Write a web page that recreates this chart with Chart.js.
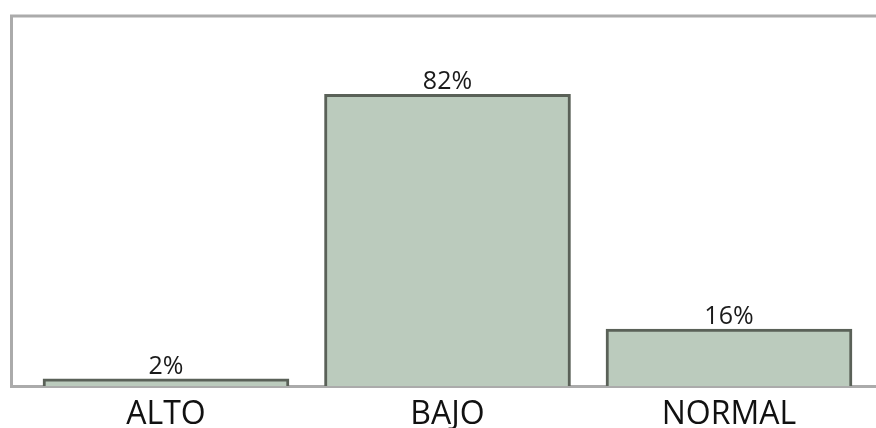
<!DOCTYPE html>
<html>
<head>
<meta charset="utf-8">
<script src="https://cdn.jsdelivr.net/npm/chart.js@4/dist/chart.umd.min.js"></script>
<style>
  html, body { margin: 0; padding: 0; background: #ffffff; }
  #wrap { position: relative; width: 876px; height: 428px; }
</style>
</head>
<body>
<div id="wrap"><canvas id="chart" width="876" height="428"></canvas></div>
<script>
// Nivel por categoría (porcentaje)
const categories = ['ALTO', 'BAJO', 'NORMAL'];
const percentages = [2, 82, 16];
const valueLabels = ['2%', '82%', '16%'];

// Marco gris: líneas superior e izquierda del área de trazado
const framePlugin = {
  id: 'frame',
  beforeDatasetsDraw(chart) {
    const { ctx, chartArea: a } = chart;
    ctx.save();
    ctx.strokeStyle = '#ababab';
    ctx.lineWidth = 3;
    ctx.beginPath();
    ctx.moveTo(a.left + 0.5, a.bottom);
    ctx.lineTo(a.left + 0.5, a.top);
    ctx.lineTo(chart.width, a.top);
    ctx.stroke();
    ctx.restore();
  }
};

// Etiquetas de valor sobre cada barra
const valueLabelPlugin = {
  id: 'valueLabels',
  afterDatasetsDraw(chart) {
    const { ctx } = chart;
    const meta = chart.getDatasetMeta(0);
    ctx.save();
    ctx.font = '25px "Open Sans", sans-serif';
    ctx.fillStyle = '#1a1a1a';
    ctx.textAlign = 'center';
    ctx.textBaseline = 'bottom';
    meta.data.forEach((bar, i) => {
      ctx.fillText(valueLabels[i], bar.x, bar.y);
    });
    ctx.restore();
  }
};

new Chart(document.getElementById('chart'), {
  type: 'bar',
  data: {
    datasets: [{
      data: percentages.map((v, i) => ({ x: i, y: v })),
      backgroundColor: '#bbcbbd',
      borderColor: '#5a6158',
      borderWidth: 3,
      borderSkipped: 'start',
      barThickness: 246
    }]
  },
  options: {
    responsive: false,
    animation: false,
    events: [],
    layout: { padding: { left: 11, top: 16, right: 0, bottom: 0 } },
    plugins: { legend: { display: false }, tooltip: { enabled: false } },
    scales: {
      x: {
        type: 'linear',
        offset: false,
        min: -0.5506,
        max: 2.5222,
        afterBuildTicks(scale) {
          scale.ticks = categories.map((_, i) => ({ value: i }));
        },
        afterFit(scale) { scale.height = 42; },
        grid: { display: false, drawTicks: false, offset: false },
        border: { display: true, color: '#ababab', width: 3 },
        ticks: {
          autoSkip: false,
          maxRotation: 0,
          padding: 10,
          color: '#111111',
          font: { family: '"Open Sans", sans-serif', size: 32 },
          callback: (v) => categories[v] ?? ''
        }
      },
      y: {
        display: false,
        min: 0,
        max: 104
      }
    }
  },
  plugins: [framePlugin, valueLabelPlugin]
});
</script>
</body>
</html>
